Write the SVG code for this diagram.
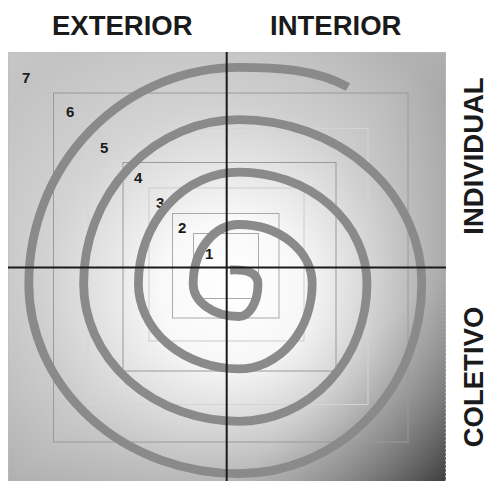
<svg xmlns="http://www.w3.org/2000/svg" width="489" height="481" viewBox="0 0 489 481">
  <defs>
    <linearGradient id="base" gradientUnits="userSpaceOnUse" x1="8" y1="52" x2="446" y2="481">
      <stop offset="0" stop-color="#c6c6c6"/>
      <stop offset="0.5" stop-color="#b0b0b0"/>
      <stop offset="0.75" stop-color="#8e8e8e"/>
      <stop offset="1" stop-color="#3c3c3c"/>
    </linearGradient>
    <radialGradient id="glow" gradientUnits="userSpaceOnUse" cx="232" cy="292" r="290">
      <stop offset="0" stop-color="#ffffff" stop-opacity="1"/>
      <stop offset="0.25" stop-color="#ffffff" stop-opacity="0.92"/>
      <stop offset="0.65" stop-color="#ffffff" stop-opacity="0.35"/>
      <stop offset="1" stop-color="#ffffff" stop-opacity="0"/>
    </radialGradient>
  </defs>
  <style>
    .sq { fill: none; stroke-width: 1; }
    .num { font-family: "Liberation Sans", Arial, sans-serif; font-weight: bold; font-size: 15px; fill: #1a1a1a; }
    .lbl { font-family: "Liberation Sans", Arial, sans-serif; font-weight: bold; font-size: 27.5px; fill: #1a1a1a; }
    .axis { stroke: #1a1a1a; stroke-width: 2; fill: none; }
    .spiral { fill: none; stroke: #8a8a8a; stroke-width: 8.8; stroke-linecap: butt; }
  </style>

  <g id="background">
    <rect x="8" y="52" width="438" height="440" fill="url(#base)"/>
    <rect x="8" y="52" width="438" height="440" fill="url(#glow)"/>
    <rect x="8.5" y="52.5" width="437" height="440" fill="none" stroke="#bdbdbd" stroke-width="1" stroke-dasharray="2 2"/>
  </g>

  <g id="squares">
    <rect id="sq6" class="sq" x="53.5" y="93" width="354.5" height="349" stroke="#9a9a9a"/>
    <rect id="sq5" class="sq" x="88" y="128.5" width="280" height="276" stroke="#d4d4d4"/>
    <rect id="sq4" class="sq" x="123" y="162.5" width="213" height="208.5" stroke="#9a9a9a"/>
    <rect id="sq3" class="sq" x="149" y="188" width="155" height="153" stroke="#cccccc"/>
    <rect id="sq2" class="sq" x="172.5" y="213.5" width="106.5" height="104.5" stroke="#aaaaaa"/>
    <rect id="sq1" class="sq" x="193.5" y="233.5" width="65" height="65" stroke="#aaaaaa"/>
  </g>

  <g id="numbers">
    <text class="num" x="22" y="83">7</text>
    <text class="num" x="66" y="117">6</text>
    <text class="num" x="100" y="153">5</text>
    <text class="num" x="134" y="183">4</text>
    <text class="num" x="156" y="208">3</text>
    <text class="num" x="178" y="233">2</text>
    <text class="num" x="205" y="259">1</text>
  </g>

  <g id="spiral">
    <path class="spiral" d="M 230 270 C 245 269 258 272 258 284
      A 19 32.5 0 0 1 239 316.5
      A 45.8 32.5 0 0 1 193.2 283.6
      A 45.8 59.1 0 0 1 239 224.5
      A 73.2 59.1 0 0 1 312.2 283.6
      A 73.2 85.3 0 0 1 239 368.9
      A 100.6 85.3 0 0 1 138.4 283.6
      A 100.6 111.5 0 0 1 239 172.1
      A 128 111.5 0 0 1 367 283.6
      A 128 137.7 0 0 1 239 421.3
      A 155.4 137.7 0 0 1 83.6 283.6
      A 155.4 163.9 0 0 1 239 119.7
      A 182.8 163.9 0 0 1 421.8 283.6
      A 182.8 190.1 0 0 1 239 473.7
      A 210.2 190.1 0 0 1 28.8 283.6
      A 210.2 216.3 0 0 1 239 67.3
      C 276 67.3 315 69 348 87"/>
  </g>

  <g id="connectors">
    <line class="axis" x1="8" y1="267.5" x2="446" y2="267.5"/>
    <line class="axis" x1="226.7" y1="52" x2="226.7" y2="481"/>
  </g>

  <g id="labels">
    <text id="exterior" class="lbl" x="52" y="35">EXTERIOR</text>
    <text id="interior" class="lbl" x="270" y="35">INTERIOR</text>
    <text id="individual" class="lbl" text-anchor="middle" transform="translate(483 156) rotate(-90)">INDIVIDUAL</text>
    <text id="coletivo" class="lbl" text-anchor="middle" transform="translate(483 377) rotate(-90)">COLETIVO</text>
  </g>
</svg>
